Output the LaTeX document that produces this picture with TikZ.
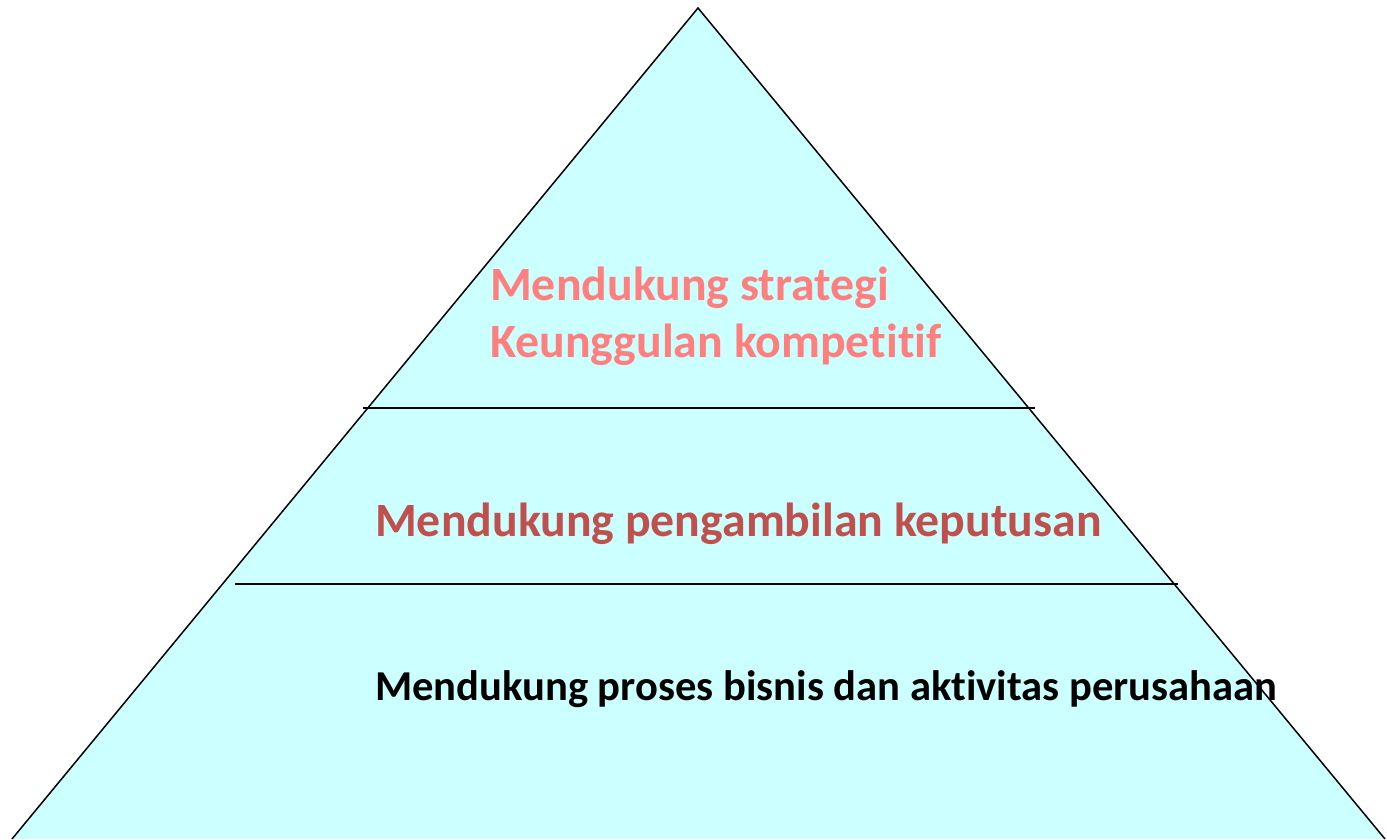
\documentclass[tikz,border=0pt]{standalone}
\usepackage{fontspec}
\setmainfont{Carlito}[RawFeature=-liga]
\definecolor{pyrfill}{HTML}{CCFFFF}
\definecolor{toptext}{HTML}{FF7F7F}
\definecolor{midtext}{HTML}{C0504D}
\begin{document}
\begin{tikzpicture}[x=1pt,y=-1pt,
  layerline/.style={line width=1.5pt,black},
  edge/.style={line width=1.5pt,black},
  lbl/.style={anchor=base west,inner sep=0pt,font=\bfseries}]
\useasboundingbox (0,0) rectangle (1387,839);
\coordinate (apex) at (698,8);
\coordinate (bl) at (12,839);
\coordinate (br) at (1385,839);
\fill[pyrfill] (apex) -- (bl) -- (br) -- cycle;
\draw[edge] (bl) -- (apex) -- (br);
\coordinate (l1a) at (363,408);
\coordinate (l1b) at (1035,408);
\coordinate (l2a) at (235,584);
\coordinate (l2b) at (1178,584);
\draw[layerline] (l1a) -- (l1b);
\draw[layerline] (l2a) -- (l2b);
\node[lbl,text=toptext,font=\fontsize{47.8}{57}\selectfont\bfseries] (t1) at (490,300) {Mendukung strategi};
\node[lbl,text=toptext,font=\fontsize{47.8}{57}\selectfont\bfseries] (t2) at (490,357) {Keunggulan kompetitif};
\node[lbl,text=midtext,font=\fontsize{47.8}{57}\selectfont\bfseries] (t3) at (375,536) {Mendukung pengambilan keputusan};
\node[lbl,text=black,font=\fontsize{42.6}{51}\selectfont\bfseries] (t4) at (375,700) {Mendukung proses bisnis dan aktivitas perusahaan};
\end{tikzpicture}
\end{document}
